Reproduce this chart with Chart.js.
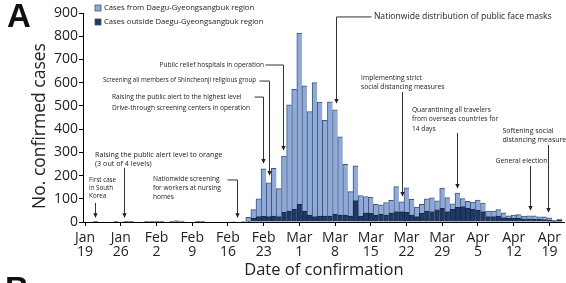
<!DOCTYPE html>
<html>
<head>
<meta charset="utf-8">
<script src="https://cdn.jsdelivr.net/npm/chart.js@4"></script>
<style>
  html, body { margin: 0; padding: 0; background: #fff; }
  #wrap { position: relative; width: 566px; height: 283px; overflow: hidden; }
  canvas { position: absolute; left: 0; top: 0; }
  .panel { position: absolute; font-family: "Liberation Sans", Arial, sans-serif; font-weight: bold; font-size: 33px; line-height: 33px; color: #111; }
</style>
</head>
<body>
<div id="wrap">
  <canvas id="chart" width="566" height="283"></canvas>
  <div class="panel" style="left:7px; top:-1px">A</div>
  <div class="panel" style="left:5px; top:272px">B</div>
</div>
<script>
// daily confirmed cases, day 0 = Jan 19
const outside = [
  0, 0, 1, 0, 0, 0, 1, 0, 1, 1,
  0, 0, 3, 4, 1, 3, 0, 1, 5, 4,
  0, 0, 3, 1, 0, 0, 0, 0, 0, 2,
  0, 0, 3, 16, 23, 26, 23, 26, 23, 42,
  47, 55, 76, 47, 30, 23, 26, 26, 26, 34,
  30, 30, 26, 92, 26, 40, 37, 30, 34, 30,
  40, 45, 45, 42, 30, 23, 37, 47, 45, 52,
  59, 45, 55, 63, 66, 60, 55, 50, 45, 23,
  23, 26, 19, 16, 16, 16, 14, 14, 12, 12,
  10, 8, 4, 8
];
const daegu = [
  0, 0, 0, 0, 0, 0, 0, 0, 0, 0,
  0, 0, 0, 0, 0, 0, 0, 0, 0, 0,
  0, 0, 0, 0, 0, 0, 0, 0, 0, 0,
  0, 1, 17, 37, 77, 203, 146, 205, 121, 242,
  458, 516, 737, 539, 446, 577, 490, 412, 492, 449,
  337, 218, 105, 150, 88, 70, 70, 46, 40, 54,
  53, 107, 42, 105, 68, 41, 39, 53, 59, 39,
  87, 60, 23, 62, 35, 29, 31, 44, 36, 24,
  24, 27, 20, 11, 14, 16, 11, 13, 15, 10,
  12, 10, 4, 5
];
const days = outside.map((_, i) => i);

const tickDays = [0, 7, 14, 21, 28, 35, 42, 49, 56, 63, 70, 77, 84, 91];
const tickLabels = [
  ["Jan", "19"], ["Jan", "26"], ["Feb", "2"], ["Feb", "9"], ["Feb", "16"],
  ["Feb", "23"], ["Mar", "1"], ["Mar", "8"], ["Mar", "15"], ["Mar", "22"],
  ["Mar", "29"], ["Apr", "5"], ["Apr", "12"], ["Apr", "19"]
];

const legendLabels = ["Cases from Daegu-Gyeongsangbuk region", "Cases outside Daegu-Gyeongsangbuk region"];
const yTitle = "No. confirmed cases";

// event notes: text lines at (day, cases), arrow path in (day, cases)
const notes = [
  { lines: ["First case", "in South", "Korea"], day: 0.8, vals: [181, 146, 112], size: 6.2, path: [[2, 82], [2, 20]] },
  { lines: ["Raising the public alert level to orange", "(3 out of 4 levels)"], day: 1.95, vals: [288, 250], size: 7.2, path: [[7.6, 233], [7.6, 20]] },
  { lines: ["Nationwide screening", "for workers at nursing", "homes"], day: 13.3, vals: [185, 146, 108], path: [[27.9, 181], [29.7, 181], [29.7, 20]] },
  { lines: ["Screening all members of Shincheonji religious group"], day: 3.5, vals: [611], size: 6.2, path: [[34.0, 607], [36.0, 607], [36.0, 202]] },
  { lines: ["Raising the public alert to the highest level", "Drive-through screening centers in operation"], day: 5.27, vals: [538, 491], path: [[33.2, 538], [34.8, 538], [34.8, 254]] },
  { lines: ["Public relief hospitals in operation"], day: 14.6, vals: [676], size: 6.6, path: [[35.3, 676], [38.7, 676], [38.7, 310]] },
  { lines: ["Nationwide distribution of public face masks"], day: 56.6, vals: [883], size: 8.6, path: [[56.0, 883], [49.2, 883], [49.2, 512]] },
  { lines: ["Implementing strict", "social distancing measures"], day: 54.1, vals: [620, 581], size: 6.7, path: [[62.1, 560], [62.1, 112]] },
  { lines: ["Quarantining all travelers", "from overseas countries for", "14 days"], day: 64.05, vals: [482, 444, 400], size: 6.7, path: [[72.9, 383], [72.9, 146]] },
  { lines: ["Softening social", "distancing measures"], day: 81.8, vals: [392, 353], size: 7, path: [[90.8, 332], [90.8, 43]] },
  { lines: ["General election"], day: 80.45, vals: [263], size: 6.8, path: [[87.1, 241], [87.1, 52]] }
];

const LIGHT = "#8eaadb";
const DARK = "#1f3864";
const FONT = "'Open Sans', 'Liberation Sans', sans-serif";

const notesPlugin = {
  id: "notes",
  afterDatasetsDraw(chart) {
    const { ctx, scales: { x, y } } = chart;
    ctx.save();

    // y axis title, a little below the plot centre like the original
    ctx.save();
    ctx.translate(40, 126);
    ctx.rotate(-Math.PI / 2);
    ctx.font = "17.5px " + FONT;
    ctx.fillStyle = "#222";
    ctx.textAlign = "center";
    ctx.textBaseline = "middle";
    ctx.fillText(yTitle, 0, 0);
    ctx.restore();

    // legend (top left, inside plot)
    ctx.font = "7.7px " + FONT;
    ctx.textBaseline = "middle";
    ctx.textAlign = "left";
    [LIGHT, DARK].forEach((c, i) => {
      const ly = 8 + i * 14;
      ctx.fillStyle = c;
      ctx.fillRect(95, ly - 3, 6, 6);
      ctx.strokeStyle = "#44546a";
      ctx.lineWidth = 0.8;
      ctx.strokeRect(95, ly - 3, 6, 6);
      ctx.fillStyle = "#222";
      ctx.fillText(legendLabels[i], 104, ly);
    });

    // annotations
    ctx.strokeStyle = "#333";
    ctx.fillStyle = "#222";
    ctx.lineWidth = 1;
    notes.forEach((n) => {
      ctx.font = (n.size || 6.6) + "px " + FONT;
      n.lines.forEach((t, i) => {
        ctx.fillText(t, x.getPixelForValue(n.day), y.getPixelForValue(n.vals[i]));
      });
      ctx.beginPath();
      n.path.forEach(([d, v], i) => {
        const px = Math.round(x.getPixelForValue(d)) + 0.5;
        const py = y.getPixelForValue(v);
        if (i === 0) ctx.moveTo(px, py); else ctx.lineTo(px, py);
      });
      ctx.stroke();
      const [td, tv] = n.path[n.path.length - 1];
      const hx = Math.round(x.getPixelForValue(td)) + 0.5;
      const hy = y.getPixelForValue(tv);
      ctx.beginPath();
      ctx.moveTo(hx - 2.2, hy - 4);
      ctx.lineTo(hx + 2.2, hy - 4);
      ctx.lineTo(hx, hy + 0.5);
      ctx.closePath();
      ctx.fill();
    });
    ctx.restore();
  }
};

new Chart(document.getElementById("chart"), {
  type: "bar",
  data: {
    datasets: [
      {
        label: legendLabels[1],
        data: days.map((d) => ({ x: d, y: outside[d] })),
        backgroundColor: DARK,
        borderColor: "#15264a",
        borderWidth: { left: 1, top: 1, right: 0, bottom: 0 },
        borderSkipped: false,
        barPercentage: 1,
        categoryPercentage: 1
      },
      {
        label: legendLabels[0],
        data: days.map((d) => ({ x: d, y: daegu[d] })),
        backgroundColor: LIGHT,
        borderColor: "#44546a",
        borderWidth: { left: 1, top: 1, right: 0, bottom: 0 },
        borderSkipped: false,
        barPercentage: 1,
        categoryPercentage: 1
      }
    ]
  },
  options: {
    responsive: false,
    animation: false,
    layout: { padding: { top: 13, right: 0, left: 0, bottom: 0 } },
    plugins: {
      legend: { display: false },
      tooltip: { enabled: false }
    },
    scales: {
      x: {
        type: "linear",
        stacked: true,
        offset: false,
        min: -0.4,
        max: 94,
        afterBuildTicks: (scale) => {
          scale.ticks = tickDays.map((v) => ({ value: v }));
        },
        afterFit: (scale) => { scale.height = 61; },
        ticks: {
          autoSkip: false,
          maxRotation: 0,
          padding: 5,
          color: "#222",
          font: { family: FONT, size: 14, lineHeight: 1.0 },
          callback: (v) => tickLabels[tickDays.indexOf(v)]
        },
        grid: { display: true, offset: false, drawOnChartArea: false, tickLength: 4, color: "#000" },
        border: { color: "#000", width: 1 },
        title: {
          display: true,
          text: "Date of confirmation",
          color: "#222",
          font: { family: FONT, size: 16.5 },
          padding: { top: 0, bottom: 3 }
        }
      },
      y: {
        stacked: true,
        min: 0,
        max: 900,
        afterFit: (scale) => { scale.width = 83; },
        ticks: {
          stepSize: 100,
          padding: 1,
          color: "#222",
          font: { family: FONT, size: 14 }
        },
        grid: { display: true, drawOnChartArea: false, tickLength: 4, color: "#000" },
        border: { color: "#000", width: 1 }
      }
    }
  },
  plugins: [notesPlugin]
});
</script>
</body>
</html>
